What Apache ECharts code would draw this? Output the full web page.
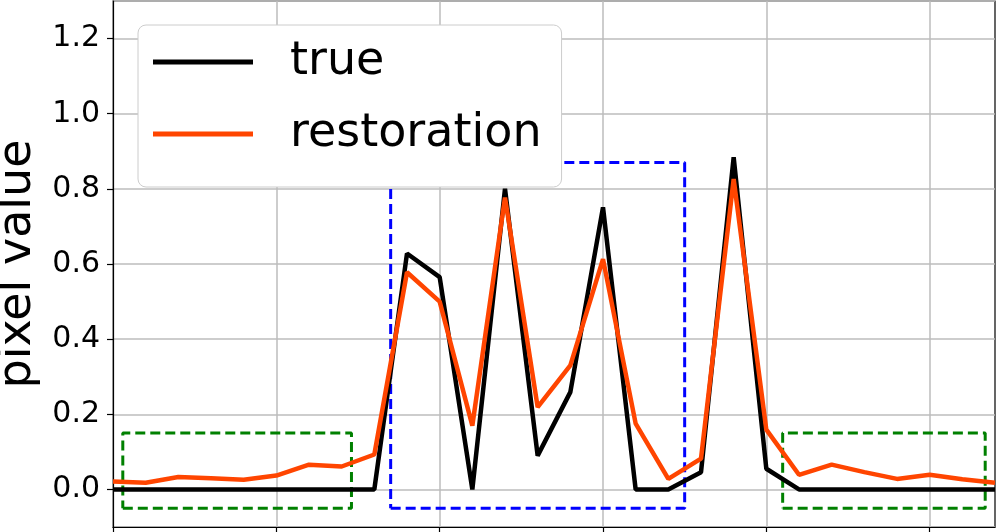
<!DOCTYPE html>
<html>
<head>
<meta charset="utf-8">
<script src="https://cdn.jsdelivr.net/npm/echarts@6/dist/echarts.min.js"></script>
<style>
  html, body { margin: 0; padding: 0; background: #fff; }
  #chart { width: 996px; height: 532px; }
</style>
</head>
<body>
<div id="chart"></div>
<script>
// pixel index along the profile
const xIndex = [0, 1, 2, 3, 4, 5, 6, 7, 8, 9, 10, 11, 12, 13, 14, 15, 16, 17, 18, 19, 20, 21, 22, 23, 24, 25, 26, 27]
const trueValues = [0, 0, 0, 0, 0, 0, 0, 0, 0, 0.628, 0.565, 0, 0.80, 0.09, 0.259, 0.751, 0, 0, 0.046, 0.884, 0.055, 0, 0, 0, 0, 0, 0, 0]
const restorationValues = [0.021, 0.018, 0.033, 0.030, 0.026, 0.037, 0.066, 0.061, 0.093, 0.578, 0.50, 0.17, 0.777, 0.219, 0.33, 0.613, 0.175, 0.028, 0.082, 0.826, 0.159, 0.039, 0.066, 0.046, 0.028, 0.039, 0.027, 0.018]
const seriesNames = ['true', 'restoration']
const xTicks = [0, 5, 10, 15, 20, 25]

// dashed highlight boxes: [x0, y0, x1, y1]
const leftBox = [0.3, -0.05, 7.3, 0.15]
const centerBox = [8.5, -0.05, 17.5, 0.87]
const rightBox = [20.5, -0.05, 26.7, 0.15]

const chart = echarts.init(document.getElementById('chart'))

// closed outline of a box, drawn as a dashed line series
const boxSeries = (b, color) => ({
  type: 'line',
  data: [[b[0], b[1]], [b[2], b[1]], [b[2], b[3]], [b[0], b[3]], [b[0], b[1]]],
  silent: true,
  symbol: 'none',
  z: 1,
  lineStyle: { color: color, width: 3, type: [10, 5] }
})

const toPairs = vals => vals.map((v, i) => [xIndex[i], v])

const option = {
  animation: false,
  textStyle: { fontFamily: 'DejaVu Sans' },
  grid: {
    left: 113,
    right: 1,
    top: 1,
    bottom: 5,
    outerBoundsMode: 'none',
    containLabel: false,
    show: true,
    borderColor: '#000',
    borderWidth: 1.2,
    backgroundColor: 'transparent'
  },
  legend: {
    data: seriesNames,
    zlevel: 1,
    z: 20,
    orient: 'vertical',
    left: 138,
    top: 25,
    padding: [14, 20, 30, 15],
    itemGap: 26,
    itemWidth: 100,
    itemHeight: 5,
    icon: 'rect',
    backgroundColor: '#ffffff',
    borderColor: '#cccccc',
    borderWidth: 1,
    borderRadius: 8,
    textStyle: {
      fontFamily: 'DejaVu Sans',
      fontSize: 46,
      lineHeight: 46,
      color: '#000',
      padding: [0, 0, 0, 32]
    }
  },
  xAxis: {
    type: 'value',
    min: 0,
    max: 27,
    interval: 5,
    axisLine: { show: true, onZero: false, lineStyle: { color: '#000', width: 1.2 } },
    axisTick: { show: true, length: 6, customValues: xTicks, lineStyle: { color: '#000', width: 1.2 } },
    axisLabel: { show: false },
    splitLine: { show: true, lineStyle: { color: '#bdbdbd', width: 1.5 } }
  },
  yAxis: {
    type: 'value',
    min: -0.1,
    max: 1.3,
    splitNumber: 7,
    name: 'pixel value',
    nameLocation: 'middle',
    nameGap: 68,
    nameTextStyle: { fontFamily: 'DejaVu Sans', fontSize: 46, color: '#000' },
    axisLine: { show: true, onZero: false, lineStyle: { color: '#000', width: 1.2 } },
    axisTick: { show: true, length: 6, lineStyle: { color: '#000', width: 1.2 } },
    axisLabel: {
      fontFamily: 'DejaVu Sans',
      fontSize: 30,
      color: '#000',
      margin: 13,
      showMinLabel: false,
      showMaxLabel: false,
      formatter: v => v.toFixed(1)
    },
    splitLine: { show: true, lineStyle: { color: '#bdbdbd', width: 1.5 } }
  },
  series: [
    boxSeries(leftBox, '#008000'),
    boxSeries(centerBox, '#0000ff'),
    boxSeries(rightBox, '#008000'),
    {
      name: seriesNames[0],
      type: 'line',
      data: toPairs(trueValues),
      showSymbol: false,
      symbol: 'none',
      lineStyle: { color: '#000000', width: 4.5 },
      itemStyle: { color: '#000000' }
    },
    {
      name: seriesNames[1],
      type: 'line',
      data: toPairs(restorationValues),
      showSymbol: false,
      symbol: 'none',
      lineStyle: { color: '#ff4500', width: 4.5 },
      itemStyle: { color: '#ff4500' }
    }
  ]
}

chart.setOption(option)
</script>
</body>
</html>
